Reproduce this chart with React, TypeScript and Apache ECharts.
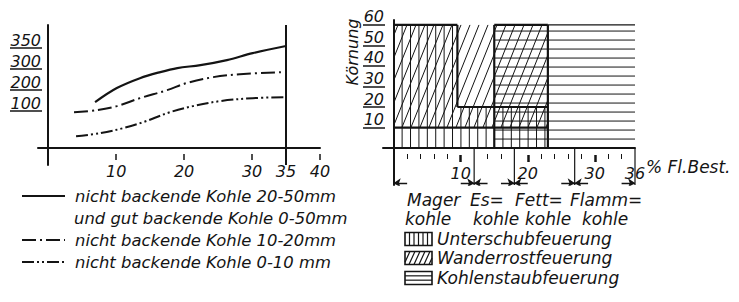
import React, { useEffect, useRef } from 'react';
import * as echarts from 'echarts';

const FONT = 'DejaVu Sans';
const INK = '#141414';

// ---------- left chart data ----------
const leftXLabelValues = [10, 20, 30, 35, 40];
const leftXTickValues = [10, 20, 30, 40];
const leftBoundaryX = 35;
const leftYTickPos = [1.76, 2.76, 3.76, 4.76];
const leftYTickText = ['100', '200', '300', '350'];

const curveNames = [
  'nicht backende Kohle 20-50mm und gut backende Kohle 0-50mm',
  'nicht backende Kohle 10-20mm',
  'nicht backende Kohle 0-10 mm',
];
const legendLines = [
  'nicht backende Kohle 20-50mm',
  'und gut backende Kohle 0-50mm',
  'nicht backende Kohle 10-20mm',
  'nicht backende Kohle 0-10 mm',
];
const solidX = [6.9, 10.1, 13.5, 16.5, 19, 22.4, 26.3, 30.1, 35];
const solidY = [2.19, 2.86, 3.33, 3.62, 3.81, 3.95, 4.19, 4.52, 4.86];
const dashDotX = [3.8, 7.2, 10.1, 13.5, 17.5, 20.4, 24.3, 28.2, 35];
const dashDotY = [1.71, 1.81, 2.0, 2.38, 2.76, 3.1, 3.38, 3.52, 3.62];
const dashDotDotX = [4.1, 7.6, 11, 14, 17.9, 21.3, 25.3, 30.1, 35];
const dashDotDotY = [0.57, 0.71, 0.95, 1.24, 1.71, 2.0, 2.24, 2.38, 2.43];

// ---------- right chart data ----------
const rightYTicks = [10, 20, 30, 40, 50, 60];
const rightXLabelValues = [10, 20, 30, 36];
const rightMajorTicks = [10, 20, 30];
const rightMinorTicks = [2, 4, 6, 8, 14, 16, 22, 24, 26, 28, 32, 34];
const coalBounds = [0, 12, 18, 27, 36];
const coalNames = [
  ['Mager', 'kohle'],
  ['Es=', 'kohle'],
  ['Fett=', 'kohle'],
  ['Flamm=', 'kohle'],
];
const firingNames = ['Unterschubfeuerung', 'Wanderrostfeuerung', 'Kohlenstaubfeuerung'];
// rectangles: [x0, x1, y0, y1]  (x: % flüchtige Bestandteile, y: Körnung mm)
const unterschubRects = [
  [0, 9.5, 0, 60],
  [9.5, 23, 0, 20],
];
const wanderrostRects = [[0, 23, 10, 60]];
const staubRects = [[15, 36, 0, 60]];
const thickOutline = [
  [0, 60, 9.5, 60],
  [9.5, 60, 9.5, 20],
  [9.5, 20, 23, 20],
  [0, 10, 23, 10],
  [15, 0, 15, 60],
  [15, 60, 23, 60],
  [23, 0, 23, 60],
];
const thinOutline = [[23, 60, 36, 60]];
const dimensionLevel = -17;
const dimensionBottom = -18;
const arrowLen = 2;

function hatch(kind: 'v' | 'd' | 'h') {
  return (params: any, api: any) => {
    const a = api.coord([api.value(0), api.value(2)]);
    const b = api.coord([api.value(1), api.value(3)]);
    const o = api.coord([0, 0]);
    const xl = Math.min(a[0], b[0]);
    const xr = Math.max(a[0], b[0]);
    const yt = Math.min(a[1], b[1]);
    const yb = Math.max(a[1], b[1]);
    const style = { stroke: INK, lineWidth: 1 };
    const children: any[] = [];
    if (kind === 'v') {
      const s = 8.4;
      for (let k = 1; k < 200; k++) {
        const x = o[0] + k * s;
        if (x >= xr - 1.5) break;
        if (x <= xl + 1.5) continue;
        children.push({ type: 'line', shape: { x1: x, y1: yt, x2: x, y2: yb }, style });
      }
    } else if (kind === 'h') {
      const s = 9;
      for (let k = 1; k < 200; k++) {
        const y = o[1] - k * s;
        if (y <= yt + 1.5) break;
        if (y >= yb - 1.5) continue;
        children.push({ type: 'line', shape: { x1: xl, y1: y, x2: xr, y2: y }, style });
      }
    } else {
      const s = 9;
      const m = 2.5;
      const hA = o[1] - yb;
      const hB = o[1] - yt;
      for (let k = -80; k < 80; k++) {
        const c = o[0] + k * s;
        const h1 = Math.max(hA, (xl - c) * m);
        const h2 = Math.min(hB, (xr - c) * m);
        if (h2 - h1 < 2) continue;
        children.push({
          type: 'line',
          shape: { x1: c + h1 / m, y1: o[1] - h1, x2: c + h2 / m, y2: o[1] - h2 },
          style,
        });
      }
    }
    return { type: 'group', children };
  };
}

function segments(width: number) {
  return (params: any, api: any) => {
    const p = api.coord([api.value(0), api.value(1)]);
    const q = api.coord([api.value(2), api.value(3)]);
    return {
      type: 'line',
      shape: { x1: p[0], y1: p[1], x2: q[0], y2: q[1] },
      style: { stroke: INK, lineWidth: width },
    };
  };
}

const txt = (size: number) => ({
  fontFamily: FONT,
  fontStyle: 'italic' as const,
  fontSize: size,
  color: INK,
});

export default function App() {
  const ref = useRef<HTMLDivElement>(null);
  useEffect(() => {
    if (!ref.current) return;
    const chart = echarts.init(ref.current, undefined, { renderer: 'svg' });

    const dividerSegs = coalBounds.slice(1).map((x) => [x, 0, x, dimensionBottom]);
    const arrows: any[] = [];
    for (let i = 0; i < coalBounds.length - 1; i++) {
      const a = coalBounds[i];
      const b = coalBounds[i + 1];
      arrows.push({ coords: [[a + arrowLen, dimensionLevel], [a, dimensionLevel]] });
      arrows.push({ coords: [[b - arrowLen, dimensionLevel], [b, dimensionLevel]] });
    }

    const coalText: any[] = [];
    const coalTextX = [[407, 405], [470, 473], [515, 525], [570, 582]];
    coalNames.forEach((pair, i) => {
      pair.forEach((t, j) => {
        coalText.push({
          type: 'text',
          x: coalTextX[i][j],
          y: j === 0 ? 200 : 219,
          style: { text: t, font: `italic 17px "${FONT}"`, fill: INK, verticalAlign: 'middle' },
        });
      });
    });

    // legend boxes on the right
    const boxX = 405;
    const boxW = 27;
    const boxH = 13;
    const boxYs = [239, 258, 278];
    const legendRight: any[] = [];
    boxYs.forEach((cy, i) => {
      const y0 = cy - boxH / 2;
      const kids: any[] = [];
      if (i === 0) {
        for (let x = boxX + 4.5; x < boxX + boxW - 1; x += 4.5)
          kids.push({ type: 'line', shape: { x1: x, y1: y0, x2: x, y2: y0 + boxH }, style: { stroke: INK, lineWidth: 1.2 } });
      } else if (i === 1) {
        for (let c = boxX - 6; c < boxX + boxW; c += 5) {
          const m = 2.2;
          const h1 = Math.max(0, (boxX - c) * m);
          const h2 = Math.min(boxH, (boxX + boxW - c) * m);
          if (h2 - h1 < 1) continue;
          kids.push({ type: 'line', shape: { x1: c + h1 / m, y1: y0 + boxH - h1, x2: c + h2 / m, y2: y0 + boxH - h2 }, style: { stroke: INK, lineWidth: 1.2 } });
        }
      } else {
        for (let y = y0 + boxH / 3; y < y0 + boxH - 1; y += boxH / 3)
          kids.push({ type: 'line', shape: { x1: boxX, y1: y, x2: boxX + boxW, y2: y }, style: { stroke: INK, lineWidth: 1.2 } });
      }
      kids.push({ type: 'rect', shape: { x: boxX, y: y0, width: boxW, height: boxH }, style: { fill: 'none', stroke: INK, lineWidth: 1.6 } });
      kids.push({
        type: 'text',
        x: boxX + boxW + 5,
        y: cy,
        style: { text: firingNames[i], font: `italic 17px "${FONT}"`, fill: INK, verticalAlign: 'middle' },
      });
      legendRight.push(...kids);
    });

    // left legend
    const legendLeft: any[] = [];
    const legendYs = [196, 218, 240, 262];
    const dashes = [null, null, [14, 4, 2, 4], [12, 3, 2, 3, 2, 3]];
    [0, 2, 3].forEach((i) => {
      legendLeft.push({
        type: 'line',
        shape: { x1: 22, y1: legendYs[i], x2: 65, y2: legendYs[i] },
        style: { stroke: INK, lineWidth: 2, lineDash: dashes[i] || undefined },
      });
    });
    legendLines.forEach((t, i) => {
      legendLeft.push({
        type: 'text',
        x: i === 1 ? 74 : 75,
        y: legendYs[i],
        style: { text: t, font: `italic 16.4px "${FONT}"`, fill: INK, verticalAlign: 'middle' },
      });
    });

    const option: any = {
      animation: false,
      backgroundColor: '#fff',
      grid: [
        { left: 38, top: 25, width: 282, height: 140 },
        { left: 383, top: 20, width: 252, height: 165 },
      ],
      xAxis: [
        {
          gridIndex: 0, type: 'value', min: -1.5, max: 40,
          axisLine: { onZero: true, lineStyle: { color: INK, width: 2 } },
          axisTick: { show: false },
          splitLine: { show: false },
          axisLabel: { show: false },
        },
        {
          gridIndex: 0, type: 'value', min: -1.5, max: 40, position: 'bottom', offset: -11,
          axisLine: { show: false, onZero: false },
          axisTick: { show: true, customValues: leftXTickValues, length: 6, lineStyle: { color: INK, width: 1.5 } },
          axisLabel: { customValues: leftXLabelValues, margin: 9, ...txt(16) },
          splitLine: { show: false },
        },
        {
          gridIndex: 1, type: 'value', min: -1.6, max: 36,
          axisLine: { onZero: true, lineStyle: { color: INK, width: 2 } },
          axisTick: { show: false },
          splitLine: { show: false },
          axisLabel: { show: false },
          name: '% Fl.Best.',
          nameLocation: 'end',
          nameGap: 11,
          nameTextStyle: { ...txt(17), verticalAlign: 'top', padding: [10, 0, 0, 0] },
        },
        {
          gridIndex: 1, type: 'value', min: -1.6, max: 36, position: 'bottom', offset: -30,
          axisLine: { show: false, onZero: false },
          axisTick: { show: true, customValues: rightMajorTicks, length: 7, lineStyle: { color: INK, width: 2.5 } },
          axisLabel: { customValues: rightXLabelValues, margin: 10, ...txt(16) },
          splitLine: { show: false },
        },
        {
          gridIndex: 1, type: 'value', min: -1.6, max: 36, position: 'bottom', offset: -31,
          axisLine: { show: false, onZero: false },
          axisTick: { show: true, customValues: rightMinorTicks, length: 5, lineStyle: { color: INK, width: 1 } },
          axisLabel: { show: false },
          splitLine: { show: false },
        },
      ],
      yAxis: [
        {
          gridIndex: 0, type: 'value', min: -0.8, max: 5.86,
          axisLine: { onZero: true, lineStyle: { color: INK, width: 2 } },
          axisTick: { show: false },
          splitLine: { show: false },
          axisLabel: { show: false },
        },
        {
          gridIndex: 0, type: 'value', min: -0.8, max: 5.86, position: 'left', offset: -4,
          axisLine: { show: false, onZero: false },
          axisTick: { show: true, customValues: leftYTickPos, length: 32, lineStyle: { color: INK, width: 1.5 } },
          axisLabel: {
            customValues: leftYTickPos,
            formatter: (v: number) => leftYTickText[leftYTickPos.findIndex((p) => Math.abs(p - v) < 1e-6)] ?? '',
            margin: 1, verticalAlign: 'bottom', ...txt(16),
          },
          splitLine: { show: false },
        },
        {
          gridIndex: 1, type: 'value', min: -18, max: 62.4,
          axisLine: { onZero: true, lineStyle: { color: INK, width: 2 } },
          axisTick: { show: false },
          splitLine: { show: false },
          axisLabel: { show: false },
        },
        {
          gridIndex: 1, type: 'value', min: -18, max: 62.4, position: 'left', offset: -2,
          axisLine: { show: false, onZero: false },
          axisTick: { show: true, customValues: rightYTicks, length: 22, lineStyle: { color: INK, width: 1.5 } },
          axisLabel: { customValues: rightYTicks, margin: 1, verticalAlign: 'bottom', ...txt(16) },
          splitLine: { show: false },
        },
      ],
      series: [
        {
          name: curveNames[0], type: 'line', xAxisIndex: 0, yAxisIndex: 0, smooth: 0.35, symbol: 'none',
          data: solidX.map((x, i) => [x, solidY[i]]),
          lineStyle: { color: INK, width: 2.2 },
          markLine: {
            silent: true, symbol: 'none', label: { show: false },
            lineStyle: { color: INK, width: 2, type: 'solid' },
            data: [{ xAxis: leftBoundaryX }],
          },
        },
        {
          name: curveNames[1], type: 'line', xAxisIndex: 0, yAxisIndex: 0, smooth: 0.35, symbol: 'none',
          data: dashDotX.map((x, i) => [x, dashDotY[i]]),
          lineStyle: { color: INK, width: 2, type: [14, 4, 2, 4] },
        },
        {
          name: curveNames[2], type: 'line', xAxisIndex: 0, yAxisIndex: 0, smooth: 0.35, symbol: 'none',
          data: dashDotDotX.map((x, i) => [x, dashDotDotY[i]]),
          lineStyle: { color: INK, width: 2, type: [12, 3, 2, 3, 2, 3] },
        },
        {
          name: firingNames[0], type: 'custom', xAxisIndex: 2, yAxisIndex: 2, silent: true,
          data: unterschubRects, encode: { x: [0, 1], y: [2, 3] }, renderItem: hatch('v'),
        },
        {
          name: firingNames[1], type: 'custom', xAxisIndex: 2, yAxisIndex: 2, silent: true,
          data: wanderrostRects, encode: { x: [0, 1], y: [2, 3] }, renderItem: hatch('d'),
        },
        {
          name: firingNames[2], type: 'custom', xAxisIndex: 2, yAxisIndex: 2, silent: true,
          data: staubRects, encode: { x: [0, 1], y: [2, 3] }, renderItem: hatch('h'),
        },
        {
          name: 'outline', type: 'custom', xAxisIndex: 2, yAxisIndex: 2, silent: true,
          data: thickOutline, encode: { x: [0, 2], y: [1, 3] }, renderItem: segments(2.2),
        },
        {
          name: 'outline-thin', type: 'custom', xAxisIndex: 2, yAxisIndex: 2, silent: true,
          data: thinOutline, encode: { x: [0, 2], y: [1, 3] }, renderItem: segments(1.2),
        },
        {
          name: 'dividers', type: 'custom', xAxisIndex: 2, yAxisIndex: 2, silent: true,
          data: dividerSegs, encode: { x: [0, 2], y: [1, 3] }, renderItem: segments(1.2),
        },
        {
          name: 'arrows', type: 'lines', coordinateSystem: 'cartesian2d', xAxisIndex: 2, yAxisIndex: 2,
          silent: true, symbol: ['none', 'arrow'], symbolSize: 7,
          lineStyle: { color: INK, width: 1.3, opacity: 1 },
          data: arrows,
        },
      ],
      graphic: [
        {
          type: 'text', x: 352, y: 52, rotation: Math.PI / 2,
          style: { text: 'Körnung', font: `italic 16px "${FONT}"`, fill: INK, align: 'center', verticalAlign: 'middle' },
        },
        ...coalText,
        ...legendRight,
        ...legendLeft,
      ],
    };
    chart.setOption(option);
    return () => chart.dispose();
  }, []);
  return (
    <div
      ref={ref}
      style={{ position: 'fixed', left: 0, top: 0, width: 739, height: 302, background: '#fff' }}
    />
  );
}
